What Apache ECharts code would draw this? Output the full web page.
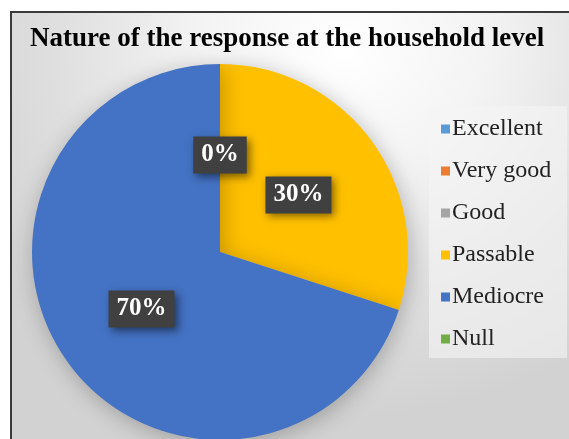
<!DOCTYPE html>
<html lang="en">
<head>
<meta charset="utf-8">
<title>Nature of the response at the household level</title>
<script src="https://cdn.jsdelivr.net/npm/echarts@6/dist/echarts.min.js"></script>
<style>
    html, body { margin: 0; padding: 0; background: #fff; overflow: hidden; }
    #frame {
        position: absolute; left: 10px; top: 11px; width: 600px; height: 460px;
        border: 2px solid #3a3a3a;
        background: radial-gradient(ellipse 70% 80% at 55% 8%, #ffffff 0%, #f3f3f3 35%, #dedede 70%, #d2d2d2 100%);
    }
    #legend-box {
        position: absolute; left: 429px; top: 106px; width: 138px; height: 252px;
        background: rgba(245, 245, 245, 0.6);
    }
    #chart { position: absolute; left: 0; top: 0; width: 569px; height: 439px; }
</style>
</head>
<body>
<div id="frame"></div>
<div id="legend-box"></div>
<div id="chart"></div>
<script>
    // 分类与数值
    var categories = ['Excellent', 'Very good', 'Good', 'Passable', 'Mediocre', 'Null'];
    var values = [0, 0, 0, 30, 70, 0];
    var colors = ['#5B9BD5', '#ED7D31', '#A5A5A5', '#FFC000', '#4472C4', '#70AD47'];

    var serif = '"Liberation Serif", "DejaVu Serif", serif';

    var pieData = categories.map(function (name, i) {
        return {
            name: name,
            value: values[i],
            itemStyle: { color: colors[i] },
            // only one label for the stacked zero slices
            label: { show: values[i] > 0 || i === 0 }
        };
    });

    var myChart = echarts.init(document.getElementById('chart'));
    myChart.setOption({
        backgroundColor: 'transparent',
        animation: false,
        title: {
            text: 'Nature of the response at the household level',
            left: 25,
            top: 21,
            textStyle: {
                fontFamily: serif,
                fontWeight: 'bold',
                fontSize: 27,
                color: '#000'
            }
        },
        legend: {
            orient: 'vertical',
            left: 436,
            top: 112,
            itemWidth: 9,
            itemHeight: 9,
            itemGap: 18,
            icon: 'rect',
            data: categories,
            textStyle: {
                fontFamily: serif,
                fontSize: 24,
                lineHeight: 24,
                color: '#222',
                padding: [0, 0, 0, -3]
            }
        },
        series: [
            {
                type: 'pie',
                center: [220, 252],
                radius: [0, 188],
                startAngle: 90,
                clockwise: true,
                stillShowZeroSum: true,
                minAngle: 0,
                data: pieData,
                itemStyle: {
                    shadowBlur: 22,
                    shadowColor: 'rgba(0,0,0,0.25)',
                    shadowOffsetX: 2,
                    shadowOffsetY: 4
                },
                label: {
                    position: 'inside',
                    formatter: '{d}%',
                    fontFamily: serif,
                    fontWeight: 'bold',
                    fontSize: 25,
                    color: '#fff',
                    backgroundColor: '#404040',
                    padding: [6, 8, 6, 8],
                    shadowBlur: 8,
                    shadowColor: 'rgba(0,0,0,0.5)',
                    shadowOffsetX: 3,
                    shadowOffsetY: 3
                },
                labelLine: { show: false },
                emphasis: { disabled: true }
            }
        ]
    });
</script>
</body>
</html>
